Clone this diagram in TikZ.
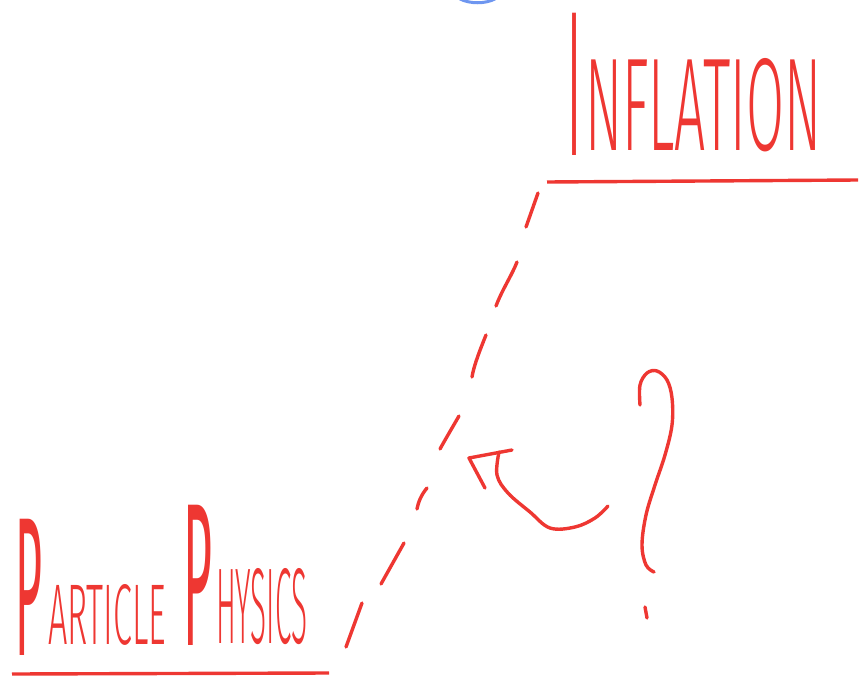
\documentclass[tikz,border=0pt]{standalone}
\usepackage{fontspec}
\setmainfont{Fira Sans}[UprightFont=* Light]
\newfontfamily\initialfont{Fira Sans}
\definecolor{inkred}{RGB}{238,55,50}
\definecolor{inkblue}{RGB}{110,150,240}
\tikzset{
  ink/.style={draw=inkred, line width=3.4pt, line cap=round, line join=round},
  baseline rule/.style={draw=inkred, line width=3.4pt},
  word/.style={inner sep=0pt, outer sep=0pt, anchor=south west, text=inkred}
}
\begin{document}
\begin{tikzpicture}[x=1pt, y=-1pt]
\useasboundingbox (0,0) rectangle (862,677);

% a sliver of a blue stroke at the top edge
\draw[draw=inkblue, line width=3pt] (460,-1) .. controls (470,4) and (485,4) .. (495,-1);

% heading: INFLATION
\node[word] (inflI) at (568,155) {\resizebox{12pt}{142pt}{\initialfont I}};
\node[word] (inflRest) at (585,152) {\resizebox{236pt}{92pt}{NFLATION}};
\draw[baseline rule] (547,182) coordinate (inflA) -- (858,180) coordinate (inflB);

% heading: PARTICLE PHYSICS
\node[word] (ppP1) at (16,655) {\resizebox{27pt}{136pt}{\initialfont P}};
\node[word] (ppRest1) at (48,645) {\resizebox{118pt}{60pt}{ARTICLE}};
\node[word] (ppP2) at (183,645) {\resizebox{29pt}{140pt}{\initialfont P}};
\node[word] (ppRest2) at (216,645) {\resizebox{91pt}{75pt}{HYSICS}};
\draw[baseline rule] (12,674) coordinate (ppA) -- (329,673) coordinate (ppB);

% hand-drawn dashed link between the two levels
\draw[ink] (538,193) -- (526,227);
\draw[ink] (517,262) .. controls (512,275) and (502,290) .. (496,306);
\draw[ink] (486,335) .. controls (480,350) and (474,365) .. (472,377);
\draw[ink] (459,416) .. controls (452,428) and (445,440) .. (440,449);
\draw[ink] (427,488) .. controls (421,495) and (418,503) .. (417,509);
\draw[ink] (404,543) -- (381,584);
\draw[ink] (362,603) -- (346,647);

% curved return arrow
\draw[ink] plot[smooth, tension=0.6] coordinates {(499,452) (497,475) (508,493) (530,512) (550,528) (575,527) (595,518) (608,506)};
\draw[ink] (512,450) -- (469,458) -- (485,488);

% question mark
\draw[ink] plot[smooth, tension=0.6] coordinates {(640,405) (640,385) (647,373) (657,371) (667,380) (672,398) (672,425) (665,455) (655,485) (646,515) (642,545) (646,565) (654,572)};
\draw[ink] (645,607) -- (647,618);
\end{tikzpicture}
\end{document}
